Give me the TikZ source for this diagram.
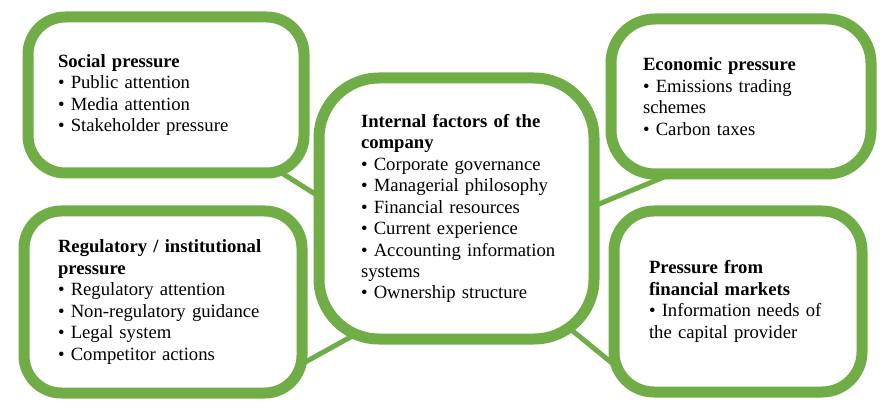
\documentclass[tikz,border=0pt]{standalone}
\usepackage{fontspec}
\setmainfont{Liberation Serif}
\usepackage{xcolor}
\usetikzlibrary{backgrounds}
\definecolor{leafgreen}{RGB}{112,173,71}

\begin{document}
\begin{tikzpicture}[x=0.75pt, y=-0.75pt,
    box/.style={draw=leafgreen, fill=white, line width=8.25pt, rounded corners=28pt,
      align=left, inner ysep=0pt, outer sep=0pt,
      font=\fontsize{14}{16.1}\selectfont},
    link/.style={leafgreen, line width=3.75pt, shorten <=-30pt, shorten >=-30pt}]
  \useasboundingbox (0,0) rectangle (887,416);

  % Pressure boxes
  \node[box, text width=162pt, inner xsep=22.5pt, minimum height=117pt] (social) at (166,95)
    {\textbf{Social pressure}\\ \textbullet\ Public attention\\ \textbullet\ Media attention\\ \textbullet\ Stakeholder pressure};
  \node[box, text width=157.5pt, inner xsep=25.5pt, minimum height=136.5pt] (regulatory) at (163,302)
    {\textbf{Regulatory / institutional}\\ \textbf{pressure}\\ \textbullet\ Regulatory attention\\ \textbullet\ Non-regulatory guidance\\ \textbullet\ Legal system\\ \textbullet\ Competitor actions};
  \node[box, text width=147pt, inner xsep=24pt, minimum height=116.25pt, rounded corners=33pt] (economic) at (741,96.5)
    {\textbf{Economic pressure}\\ \textbullet\ Emissions trading\\ schemes\\ \textbullet\ Carbon taxes};
  \node[box, text width=133.5pt, inner xsep=26.25pt, minimum height=135.75pt, rounded corners=30pt] (financial) at (738,301.5)
    {\textbf{Pressure from}\\ \textbf{financial markets}\\ \textbullet\ Information needs of\\ the capital provider};

  % Company in the middle
  \node[box, text width=143.25pt, inner xsep=31.5pt, minimum height=195.75pt, rounded corners=45pt] (company) at (456.5,208.5)
    {\textbf{Internal factors of the}\\ \textbf{company}\\ \textbullet\ Corporate governance\\ \textbullet\ Managerial philosophy\\ \textbullet\ Financial resources\\ \textbullet\ Current experience\\ \mbox{\textbullet\ Accounting information}\\ systems\\ \textbullet\ Ownership structure};

  % Links behind the boxes
  \begin{pgfonlayer}{background}
    \draw[link] (social.-34) -- (company.175);
    \draw[link] (regulatory.-24) -- (company.-130);
    \draw[link] (company.1) -- (economic.-132);
    \draw[link] (company.-46) -- (financial.-153);
  \end{pgfonlayer}
\end{tikzpicture}
\end{document}
